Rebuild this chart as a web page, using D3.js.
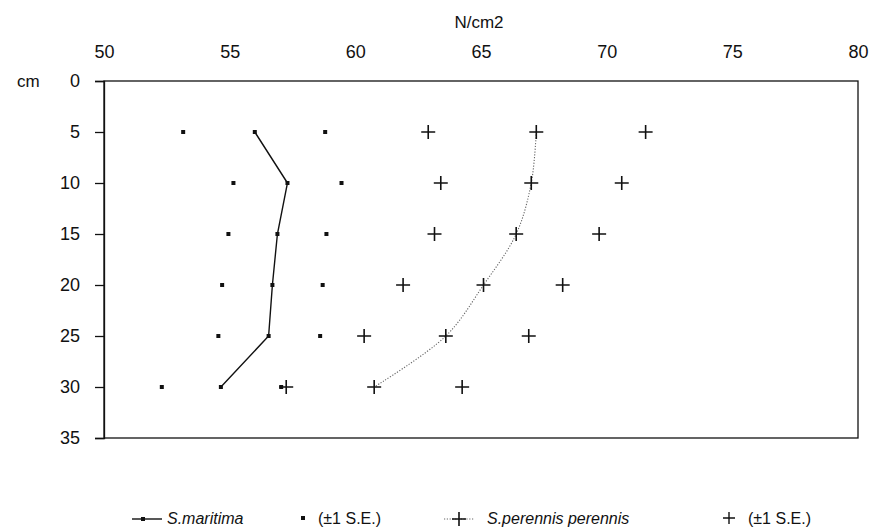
<!DOCTYPE html>
<html>
<head>
<meta charset="utf-8">
<script src="https://cdn.jsdelivr.net/npm/d3@7"></script>
<style>
  body { margin: 0; background: #fff; }
  text { font-family: "Liberation Sans", Arial, sans-serif; fill: #111; }
</style>
</head>
<body>
<div id="chart"></div>
<script>
// depths (cm) and penetration resistance (N/cm2)
var depths = [5, 10, 15, 20, 25, 30];
var maritimaMean = [56.0, 57.3, 56.9, 56.7, 56.55, 54.65];
var maritimaLow = [53.15, 55.15, 54.95, 54.7, 54.55, 52.3];
var maritimaHigh = [58.8, 59.45, 58.85, 58.7, 58.6, 57.05];
var perennisMean = [67.2, 67.0, 66.4, 65.1, 63.6, 60.75];
var perennisLow = [62.9, 63.4, 63.15, 61.9, 60.35, 57.25];
var perennisHigh = [71.55, 70.6, 69.7, 68.25, 66.9, 64.25];
var xTicks = [50, 55, 60, 65, 70, 75, 80];
var yTicks = [0, 5, 10, 15, 20, 25, 30, 35];

var svgWidth = 875;
var svgHeight = 531;
var margin = { top: 81, right: 17, bottom: 93, left: 104 };
var width = svgWidth - margin.left - margin.right;
var height = svgHeight - margin.top - margin.bottom;

var svg = d3.select("#chart")
  .append("svg")
  .attr("width", svgWidth)
  .attr("height", svgHeight);

var g = svg.append("g")
  .attr("transform", "translate(" + margin.left + "," + margin.top + ")");

var x = d3.scaleLinear().domain([50, 80]).range([0, width]);
var y = d3.scaleLinear().domain([0, 35]).range([0, height]);

// frame
g.append("rect")
  .attr("width", width)
  .attr("height", height)
  .attr("fill", "none")
  .attr("stroke", "#111")
  .attr("stroke-width", 1.3);

// top axis labels only
var xAxis = g.append("g")
  .call(d3.axisTop(x).tickValues(xTicks).tickSize(0).tickPadding(23));
xAxis.select(".domain").remove();
xAxis.selectAll("text").style("font-size", "18px").attr("fill", "#1a1a1a");

// left axis
var yAxis = g.append("g")
  .call(d3.axisLeft(y).tickValues(yTicks).tickSize(9).tickPadding(15));
yAxis.select(".domain").attr("stroke", "#111").attr("stroke-width", 1.3);
yAxis.selectAll("line").attr("stroke", "#111").attr("stroke-width", 1.3);
yAxis.selectAll("text").style("font-size", "18px").attr("fill", "#1a1a1a");

svg.append("text")
  .attr("x", 479).attr("y", 28)
  .attr("text-anchor", "middle")
  .style("font-size", "17px")
  .text("N/cm2");

svg.append("text")
  .attr("x", 17).attr("y", 87)
  .style("font-size", "17px")
  .text("cm");

// S. maritima mean line
var line = d3.line()
  .x(function(d, i) { return x(d); })
  .y(function(d, i) { return y(depths[i]); });

g.append("path")
  .datum(maritimaMean)
  .attr("fill", "none")
  .attr("stroke", "#111")
  .attr("stroke-width", 1.4)
  .attr("d", line);

var curve = d3.line()
  .curve(d3.curveCatmullRom)
  .x(function(d, i) { return x(d); })
  .y(function(d, i) { return y(depths[i]); });

g.append("path")
  .datum(perennisMean)
  .attr("fill", "none")
  .attr("stroke", "#666")
  .attr("stroke-width", 1.1)
  .attr("stroke-dasharray", "1.2,1.6")
  .attr("d", curve);

function dots(vals) {
  g.append("g").selectAll("rect")
    .data(vals)
    .enter()
    .append("rect")
    .attr("x", function(d) { return x(d) - 2; })
    .attr("y", function(d, i) { return y(depths[i]) - 2; })
    .attr("width", 4)
    .attr("height", 4)
    .attr("fill", "#111");
}

function plus(vals) {
  g.append("g").selectAll("path")
    .data(vals)
    .enter()
    .append("path")
    .attr("d", function(d, i) {
      var cx = x(d), cy = y(depths[i]);
      return "M" + (cx - 7) + "," + cy + "H" + (cx + 7) +
             "M" + cx + "," + (cy - 7) + "V" + (cy + 7);
    })
    .attr("stroke", "#111")
    .attr("stroke-width", 1.6);
}

dots(maritimaMean);
dots(maritimaLow);
dots(maritimaHigh);
plus(perennisMean);
plus(perennisLow);
plus(perennisHigh);

// legend
var lg = svg.append("g").attr("transform", "translate(0,519)");
lg.append("line")
  .attr("x1", 132).attr("x2", 162).attr("y1", 0).attr("y2", 0)
  .attr("stroke", "#111").attr("stroke-width", 1.4);
lg.append("rect").attr("x", 141).attr("y", -2).attr("width", 4).attr("height", 4).attr("fill", "#111");
lg.append("text").attr("x", 167).attr("y", 5)
  .style("font-size", "16px").style("font-style", "italic").text("S.maritima");
lg.append("rect").attr("x", 301).attr("y", -3).attr("width", 4).attr("height", 4).attr("fill", "#111");
lg.append("text").attr("x", 318).attr("y", 5)
  .style("font-size", "16px").text("(\u00b11 S.E.)");
lg.append("line")
  .attr("x1", 444).attr("x2", 474).attr("y1", 0).attr("y2", 0)
  .attr("stroke", "#666").attr("stroke-width", 1.1).attr("stroke-dasharray", "1.2,1.6");
lg.append("path").attr("d", "M452,0H466M459,-7V7").attr("stroke", "#111").attr("stroke-width", 1.6);
lg.append("text").attr("x", 487).attr("y", 5)
  .style("font-size", "16px").style("font-style", "italic").text("S.perennis perennis");
lg.append("path").attr("d", "M723,-1H735M729,-7V5").attr("stroke", "#111").attr("stroke-width", 1.4);
lg.append("text").attr("x", 748).attr("y", 5)
  .style("font-size", "16px").text("(\u00b11 S.E.)");
</script>
</body>
</html>
